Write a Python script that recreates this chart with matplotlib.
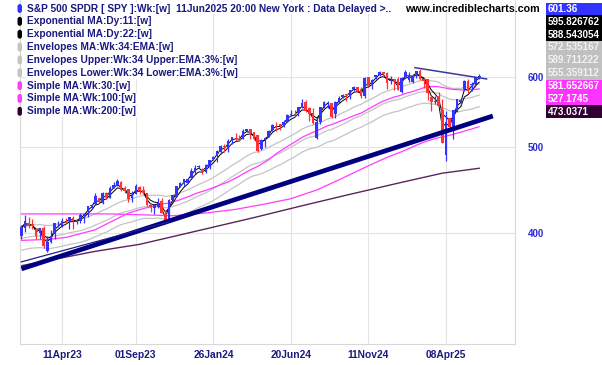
import numpy as np
import pandas as pd
import matplotlib
matplotlib.use("Agg")
import matplotlib.pyplot as plt
from matplotlib.patches import Rectangle, FancyBboxPatch
from matplotlib.ticker import FixedLocator, NullLocator, FixedFormatter

W, H, DPI = 602, 365, 100

# ---------------- data (weekly SPY, week of 23 Jan 2023 .. week of 9 Jun 2025) ----------------
opens = [396.7, 405.2, 409.8, 408.7, 403.1, 399.9, 405.1, 381.8, 390.8, 398.1,
         408.9, 406.6, 412.4, 411.9, 415.5, 411.1, 412.2, 418.6, 422.0, 428.3,
         430.9, 437.4, 432.6, 442.9, 438.2, 449.1, 453.4, 456.3, 448.7, 448.1,
         437.5, 442.2, 450.7, 446.4, 443.1, 429.2, 426.6, 427.6, 433.8, 419.6,
         413.6, 435.5, 439.2, 450.5, 454.7, 455.8, 461.6, 470.0, 474.1, 472.2,
         468.4, 474.8, 484.0, 488.6, 493.7, 501.2, 497.7, 508.3, 512.0, 510.5,
         510.5, 521.4, 523.8, 519.1, 515.1, 497.8, 509.6, 513.8, 522.3, 529.6,
         530.3, 529.0, 534.1, 543.0, 544.3, 545.6, 555.4, 562.0, 553.0, 546.0,
         511.6, 534.2, 554.7, 563.2, 560.5, 544.7, 563.7, 570.0, 573.4, 571.0,
         581.2, 584.1, 581.0, 571.3, 599.8, 587.0, 599.5, 603.0, 607.7, 606.0,
         594.0, 596.0, 596.3, 576.6, 600.7, 594.8, 592.7, 604.0, 609.8, 597.0,
         596.2, 569.8, 562.8, 570.8, 549.8, 489.2, 539.0, 521.2, 551.0, 562.0,
         581.5, 593.0, 587.9, 588.5, 600.0]
highs = [408.2, 418.3, 416.5, 415.0, 404.2, 405.0, 407.4, 396.5, 402.5, 409.7,
         411.9, 415.1, 415.7, 415.9, 417.6, 414.5, 420.7, 420.8, 428.7, 431.0,
         443.9, 438.3, 444.3, 444.1, 451.4, 456.4, 459.4, 457.8, 451.7, 448.1,
         445.4, 453.7, 451.1, 451.1, 444.0, 432.3, 431.1, 437.3, 438.1, 424.8,
         436.3, 440.9, 451.4, 456.4, 459.7, 461.6, 473.7, 477.4, 477.6, 473.7,
         478.6, 482.7, 489.0, 496.0, 502.7, 503.5, 510.1, 513.3, 518.0, 516.0,
         524.1, 524.6, 524.4, 520.0, 515.3, 509.9, 512.6, 522.6, 531.5, 533.1,
         531.3, 536.3, 545.1, 550.3, 550.0, 555.0, 566.2, 565.2, 555.1, 554.0,
         538.8, 555.0, 563.2, 564.2, 560.8, 563.1, 570.4, 574.7, 574.1, 580.0,
         586.1, 585.0, 584.0, 599.9, 600.2, 596.2, 603.4, 609.1, 607.9, 607.8,
         601.3, 597.0, 599.3, 599.4, 610.8, 608.0, 604.1, 609.9, 613.2, 599.0,
         597.3, 570.1, 570.6, 577.0, 566.6, 548.6, 539.7, 551.0, 567.0, 568.5,
         595.0, 596.5, 591.7, 600.0, 604.5]
lows = [393.6, 400.3, 405.0, 404.1, 393.6, 393.6, 384.3, 380.7, 389.4, 393.7,
        405.7, 405.9, 410.2, 403.8, 403.7, 408.9, 410.2, 409.9, 416.2, 425.8,
        430.2, 432.5, 431.2, 437.1, 437.9, 449.0, 451.6, 446.3, 443.3, 433.0,
        433.0, 442.0, 442.8, 442.9, 428.8, 422.6, 420.2, 427.0, 421.1, 409.2,
        412.2, 433.1, 438.4, 450.0, 452.0, 454.8, 460.7, 466.5, 473.3, 466.4,
        466.9, 471.9, 482.9, 480.6, 491.2, 494.1, 493.6, 504.4, 508.3, 508.0,
        510.0, 519.5, 509.9, 509.8, 493.9, 496.0, 499.9, 513.5, 520.8, 521.8,
        522.6, 526.3, 533.4, 542.6, 542.0, 542.6, 553.1, 547.7, 535.5, 531.1,
        510.3, 530.9, 553.9, 553.9, 539.4, 539.4, 560.8, 568.4, 563.6, 566.5,
        578.1, 577.6, 568.0, 568.4, 584.7, 581.5, 597.0, 601.4, 599.9, 580.9,
        589.0, 580.0, 579.6, 575.4, 600.3, 592.6, 590.9, 598.3, 595.0, 582.4,
        565.6, 549.7, 559.7, 555.3, 504.9, 481.8, 522.8, 510.0, 547.7, 556.0,
        578.0, 575.6, 578.0, 584.9, 596.5]
closes = [405.7, 412.4, 408.0, 407.3, 396.4, 404.2, 385.9, 389.9, 395.8, 409.4,
          409.2, 412.5, 412.2, 415.9, 412.6, 411.6, 418.6, 420.0, 427.9, 429.9,
          439.5, 433.2, 443.3, 438.6, 449.3, 452.2, 456.9, 446.8, 445.7, 436.5,
          440.0, 451.2, 445.8, 443.4, 430.4, 427.5, 429.5, 431.5, 421.2, 410.7,
          434.7, 440.6, 450.8, 455.3, 459.1, 460.2, 469.3, 473.6, 475.3, 467.9,
          476.7, 482.4, 487.4, 494.4, 501.2, 499.5, 507.9, 512.9, 511.7, 509.8,
          521.2, 523.1, 518.4, 510.9, 495.2, 508.3, 511.3, 520.8, 529.5, 529.4,
          527.4, 534.0, 542.8, 544.5, 544.2, 554.6, 560.0, 549.0, 544.4, 532.9,
          533.3, 554.3, 562.1, 563.7, 540.4, 562.0, 568.3, 571.5, 573.0, 579.6,
          584.6, 579.0, 571.0, 598.2, 585.8, 595.5, 602.6, 607.8, 604.2, 591.2,
          595.0, 592.0, 580.5, 597.6, 608.0, 601.8, 600.8, 609.7, 597.0, 594.2,
          575.9, 562.8, 564.0, 555.7, 505.3, 533.9, 526.4, 550.6, 566.8, 564.3,
          594.2, 579.1, 589.4, 599.1, 601.36]

tick_pos = [11, 31, 52, 73, 94, 115]
tick_labels = ["11Apr23", "01Sep23", "26Jan24", "20Jun24", "11Nov24", "08Apr25"]

ema34_seed = 393.0
sma30_early_idx = [0, 7, 12, 20, 25]
sma30_early_val = [392, 393, 395, 403, 413]
sma100_early_idx = [0, 12, 24, 33, 41, 50, 58, 66, 73, 80, 87, 93]
sma100_early_val = [420, 420, 420, 419, 418, 421, 425, 431, 437, 447, 461, 474]
sma200_idx = [0, 20, 32, 40, 63, 75, 88, 103, 114, 124]
sma200_val = [367, 381, 388, 395, 416, 428, 441, 456, 467, 473.04]

# drawn trendlines (bar index, price)
trend_main = ([0, 127.7], [364, 542])
trend_thin = ([0, 40], [370.7, 411.4])
trend_top = ([106.6, 126], [614.7, 596.9])

legend_labels = ["S&P 500 SPDR [ SPY ]:Wk:[w]  11Jun2025 20:00 New York : Data Delayed >..",
                 "Exponential MA:Dy:11:[w]", "Exponential MA:Dy:22:[w]",
                 "Envelopes MA:Wk:34:EMA:[w]", "Envelopes Upper:Wk:34 Upper:EMA:3%:[w]",
                 "Envelopes Lower:Wk:34 Lower:EMA:3%:[w]", "Simple MA:Wk:30:[w]",
                 "Simple MA:Wk:100:[w]", "Simple MA:Wk:200:[w]"]
value_labels = ["601.36", "595.826762", "588.543054", "572.535167", "589.711222",
                "555.359112", "581.652667", "527.1745", "473.0371"]

# ---------------- styles ----------------
BLUE = "#3333ff"
RED = "#ff3333"
GRAY = "#c4c4c4"
MAG = "#ff3cff"
PURP = "#5a255a"
NAVY = "#000080"
TXT = "#1a1a80"
swatch_cols = [BLUE, "#000000", "#000000", GRAY, GRAY, GRAY, MAG, MAG, "#330033"]
box_bg = [BLUE, "#000000", "#000000", "#c0c0c0", "#c0c0c0", "#c0c0c0", "#ff33ff", "#ff33ff", "#330033"]
box_fg = ["white", "white", "white", "#f2f2f2", "#f2f2f2", "#f2f2f2", "white", "white", "white"]
FONT = "Liberation Sans"

o = np.array(opens); h = np.array(highs); l = np.array(lows); c = np.array(closes)
n = len(c)
x = np.arange(n)
cs = pd.Series(c)

ema_fast = cs.ewm(alpha=0.6, adjust=False).mean().values
ema_slow = cs.ewm(alpha=0.366, adjust=False).mean().values
ema34 = pd.concat([pd.Series([ema34_seed]), cs], ignore_index=True).ewm(span=34, adjust=False).mean().values[1:]
env_up = ema34 * 1.03
env_lo = ema34 * 0.97

sma30_calc = cs.rolling(30).mean()
s30_x = list(sma30_early_idx) + list(range(29, n))
s30_y = list(sma30_early_val) + list(sma30_calc.values[29:])
sma100_calc = cs.rolling(100).mean()
s100_x = list(sma100_early_idx) + list(range(99, n))
s100_y = list(sma100_early_val) + list(sma100_calc.values[99:])

fig = plt.figure(figsize=(W / DPI, H / DPI), dpi=DPI)
fig.patch.set_facecolor("white")
ax = fig.add_axes([20 / W, (H - 344) / H, 495 / W, 344 / H])
ax.set_yscale("log")
ax.set_ylim(299.3, 733.2)
ax.set_xlim(-0.38, 133.7)

ax.yaxis.set_major_locator(FixedLocator([400, 500, 600]))
ax.yaxis.set_minor_locator(NullLocator())
ax.yaxis.set_major_formatter(FixedFormatter(["400", "500", "600"]))
ax.yaxis.tick_right()
ax.tick_params(axis="y", length=0, pad=9, labelsize=7.0, labelcolor="#2a2ad0")
ax.set_xticks(tick_pos)
ax.set_xticklabels(tick_labels)
ax.tick_params(axis="x", length=0, pad=4.5, labelsize=7.4, labelcolor=TXT)
for lbl in ax.get_xticklabels() + ax.get_yticklabels():
    lbl.set_fontweight("bold")
    lbl.set_fontfamily(FONT)
ax.grid(True, color="#e4e4e4", lw=0.8, zorder=0)
for sp in ["left", "right", "bottom"]:
    ax.spines[sp].set_color("#d8d8d8")
ax.spines["top"].set_visible(False)

# indicator lines
ax.plot(x, ema34, color=GRAY, lw=0.9, zorder=2)
ax.plot(x, env_up, color=GRAY, lw=0.9, zorder=2)
ax.plot(x, env_lo, color=GRAY, lw=0.9, zorder=2)
ax.plot(s30_x, s30_y, color=MAG, lw=0.9, zorder=2)
ax.plot(s100_x, s100_y, color=MAG, lw=0.9, zorder=2)
ax.plot(sma200_idx, sma200_val, color=PURP, lw=1.0, zorder=2)
ax.plot(x, ema_slow, color="#000000", lw=0.7, zorder=3)
ax.plot(x, ema_fast, color="#000000", lw=0.7, zorder=3)

# candles
up = c >= o
cols = np.where(up, BLUE, RED)
ax.vlines(x, l, h, colors=cols, lw=0.9, zorder=4)
ax.bar(x, np.abs(c - o) + 0.3, bottom=np.minimum(o, c), width=0.72, color=cols,
       linewidth=0, zorder=5)

# trendlines
ax.plot(*trend_main, color=NAVY, lw=3.4, solid_capstyle="butt", zorder=6)
ax.plot(*trend_thin, color="#20208a", lw=0.9, zorder=6)
ax.plot(*trend_top, color="#3a3a9c", lw=1.1, zorder=6)

# legend block
row_h = 12.85
for i, (lab, col) in enumerate(zip(legend_labels, swatch_cols)):
    yc = 8.5 + row_h * i
    sw = FancyBboxPatch((17.5 / W, 1 - (yc + 4.5) / H), 4.5 / W, 9 / H,
                        boxstyle="round,pad=0,rounding_size=0.004", mutation_aspect=W / H,
                        transform=fig.transFigure, facecolor=col, edgecolor="none", zorder=10)
    fig.add_artist(sw)
    fig.text(27 / W, 1 - yc / H, lab, ha="left", va="center", fontsize=7.25,
             fontweight="bold", family=FONT, color=TXT, zorder=10,
             bbox=dict(facecolor="white", edgecolor="none", pad=0.6))

fig.text(405 / W, 1 - 8.5 / H, "www.incrediblecharts.com", ha="left", va="center",
         fontsize=7.7, fontweight="bold", family=FONT, color="black", zorder=10)

# value boxes on the right
for i, (val, bg, fg) in enumerate(zip(value_labels, box_bg, box_fg)):
    top = 2.5 + row_h * i
    r = Rectangle((546 / W, 1 - (top + row_h) / H), 56 / W, row_h / H,
                  transform=fig.transFigure, facecolor=bg, edgecolor="none", zorder=10)
    fig.add_artist(r)
    fig.text(548 / W, 1 - (top + row_h / 2) / H, val, ha="left", va="center",
             fontsize=7.1, fontweight="bold", family=FONT, color=fg, zorder=11)

fig.savefig("out.png", dpi=DPI, facecolor="white")
